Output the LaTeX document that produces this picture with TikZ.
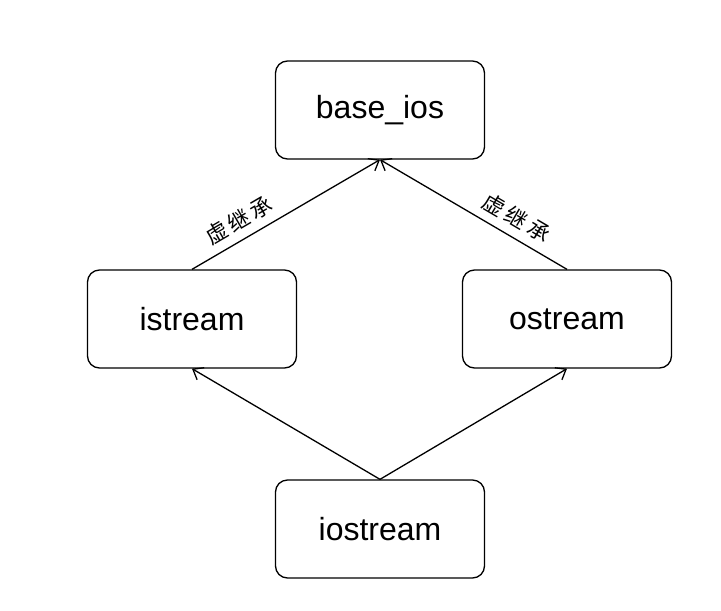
\documentclass[tikz,border=0pt]{standalone}
\usepackage{fontspec}
\setmainfont{Liberation Sans}
\newfontfamily\cjk{Noto Sans CJK SC}
\usetikzlibrary{arrows.meta}
\begin{document}
\begin{tikzpicture}[x=1pt,y=-1pt,
  box/.style={draw,line width=1.3pt,rounded corners=12pt,minimum width=209pt,minimum height=98pt,font=\fontsize{32}{38}\selectfont},
  arr/.style={draw,line width=1.3pt,-{Straight Barb[length=9pt,width=14pt]}},
  lab/.style={font=\cjk\fontsize{22}{26}\selectfont,above,sloped,inner sep=8pt}]
\useasboundingbox (0,0) rectangle (721,611);
\node[box] (base) at (380,110) {base\_ios};
\node[box] (is) at (192,319) {istream};
\node[box] (os) at (567,319) {ostream};
\node[box] (io) at (380,529) {iostream};
\draw[arr] (is.north) -- node[lab,pos=0.3]{虚\,继\,承} (base.south);
\draw[arr] (os.north) -- node[lab,pos=0.32]{虚\,继\,承} (base.south);
\draw[arr] (io.north) -- (is.south);
\draw[arr] (io.north) -- (os.south);
\end{tikzpicture}
\end{document}
